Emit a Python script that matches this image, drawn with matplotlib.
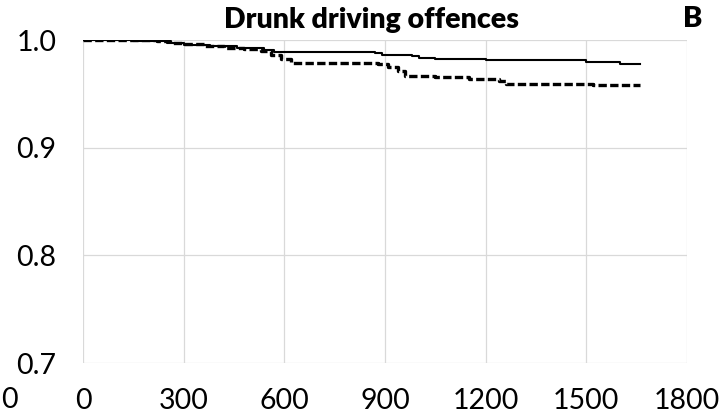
import matplotlib
matplotlib.use("Agg")
import matplotlib.pyplot as plt

plt.rcParams['font.family'] = ['Lato', 'DejaVu Sans']

# follow-up days and cumulative survival, group 1 (solid)
solid_t = [0, 150, 250, 300, 380, 460, 540, 570, 870, 890, 980, 1000, 1050, 1200, 1500, 1600, 1660]
solid_s = [1.000, 0.999, 0.997, 0.995, 0.994, 0.993, 0.991, 0.989, 0.988, 0.986, 0.985, 0.983,
           0.982, 0.981, 0.980, 0.978, 0.978]

# group 2 (dashed)
dash_t = [0, 220, 260, 300, 360, 420, 480, 530, 560, 590, 620, 880, 910, 940, 960, 1050, 1150,
          1240, 1260, 1520, 1660]
dash_s = [1.000, 0.999, 0.997, 0.996, 0.994, 0.993, 0.992, 0.990, 0.986, 0.982, 0.979, 0.978,
          0.975, 0.971, 0.967, 0.966, 0.964, 0.962, 0.959, 0.958, 0.958]

x_ticks = [0, 300, 600, 900, 1200, 1500, 1800]
y_ticks = [0.7, 0.8, 0.9, 1.0]

fig = plt.figure(figsize=(7.21, 4.15), dpi=100)
ax = fig.add_axes([0.1151, 0.1253, 0.8377, 0.7783])

ax.step(solid_t, solid_s, where='post', color='black', lw=1.5)
ax.step(dash_t, dash_s, where='post', color='black', lw=2.4, dashes=(2.5, 1.0))

ax.set_xlim(0, 1800)
ax.set_ylim(0.7, 1.0)
ax.set_xticks(x_ticks)
ax.set_yticks(y_ticks)
ax.set_yticklabels(['%.1f' % v for v in y_ticks])
ax.grid(True, color='#d9d9d9', lw=0.9)
ax.set_axisbelow(True)
for s in ax.spines.values():
    s.set_visible(False)
ax.tick_params(length=0, labelsize=20.5)
ax.tick_params(axis='x', pad=18)
ax.tick_params(axis='y', pad=19)

fig.text(371 / 721, 1 - 28 / 415, 'Drunk driving offences', ha='center', va='baseline',
         fontsize=20.5, fontweight='heavy')
fig.text(693 / 721, 1 - 27 / 415, 'B', ha='center', va='baseline', fontsize=21, fontweight='heavy')
fig.text(9 / 721, 1 - 408 / 415, '0', ha='center', va='baseline', fontsize=20.5)

fig.savefig('out.png', dpi=100)
